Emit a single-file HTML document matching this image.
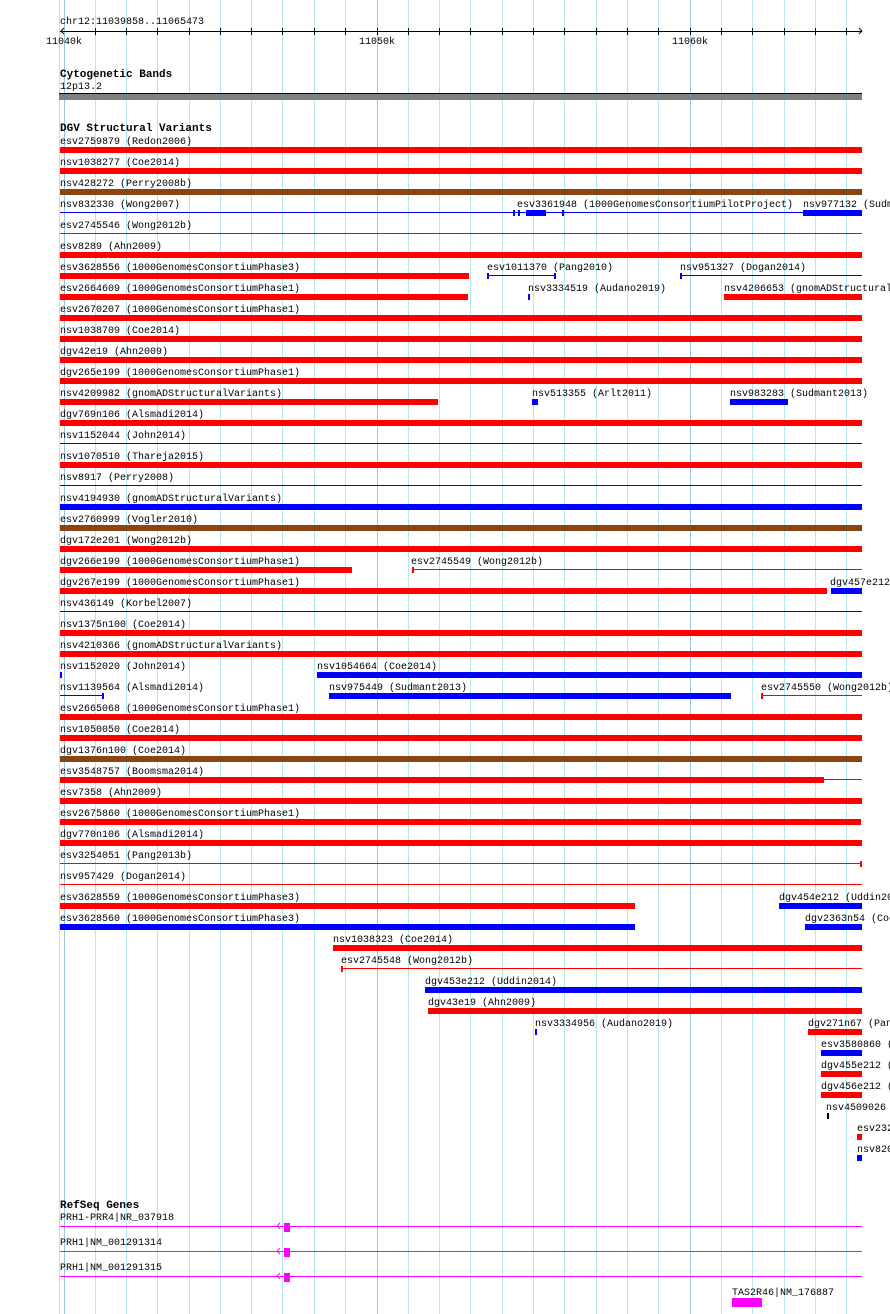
<!DOCTYPE html>
<html><head><meta charset="utf-8"><style>
html,body{margin:0;padding:0;background:#fff;}
svg{display:block;}
text{font-family:"Liberation Mono",monospace;font-size:10px;fill:#000;}
.b{font-weight:bold;font-size:11px;}
</style></head><body>
<svg width="890" height="1314" viewBox="0 0 890 1314" xmlns="http://www.w3.org/2000/svg">
<g stroke="#b4e6ee" stroke-width="1">
<line x1="59.5" y1="0" x2="59.5" y2="1314"/>
<line x1="95.5" y1="0" x2="95.5" y2="1314"/><line x1="126.5" y1="0" x2="126.5" y2="1314"/><line x1="157.5" y1="0" x2="157.5" y2="1314"/><line x1="189.5" y1="0" x2="189.5" y2="1314"/><line x1="220.5" y1="0" x2="220.5" y2="1314"/><line x1="251.5" y1="0" x2="251.5" y2="1314"/><line x1="282.5" y1="0" x2="282.5" y2="1314"/><line x1="314.5" y1="0" x2="314.5" y2="1314"/><line x1="345.5" y1="0" x2="345.5" y2="1314"/>
<line x1="408.5" y1="0" x2="408.5" y2="1314"/><line x1="439.5" y1="0" x2="439.5" y2="1314"/><line x1="470.5" y1="0" x2="470.5" y2="1314"/><line x1="502.5" y1="0" x2="502.5" y2="1314"/><line x1="533.5" y1="0" x2="533.5" y2="1314"/><line x1="564.5" y1="0" x2="564.5" y2="1314"/><line x1="596.5" y1="0" x2="596.5" y2="1314"/><line x1="627.5" y1="0" x2="627.5" y2="1314"/><line x1="658.5" y1="0" x2="658.5" y2="1314"/>
<line x1="721.5" y1="0" x2="721.5" y2="1314"/><line x1="752.5" y1="0" x2="752.5" y2="1314"/><line x1="784.5" y1="0" x2="784.5" y2="1314"/><line x1="815.5" y1="0" x2="815.5" y2="1314"/><line x1="846.5" y1="0" x2="846.5" y2="1314"/>
</g>
<g stroke="#9cc6e6" stroke-width="1">
<line x1="64.5" y1="0" x2="64.5" y2="1314"/><line x1="377.5" y1="0" x2="377.5" y2="1314"/><line x1="690.5" y1="0" x2="690.5" y2="1314"/>
</g>
<!-- ruler -->
<text x="60" y="24">chr12:11039858..11065473</text>
<rect x="60" y="31" width="802" height="1" fill="#000"/>
<path d="M64 28 L61 31 L64 34" stroke="#000" fill="none"/>
<path d="M859 28 L862 31 L859 34" stroke="#000" fill="none"/>
<g fill="#000">
<rect x="95" y="28" width="1" height="7"/><rect x="126" y="28" width="1" height="7"/><rect x="157" y="28" width="1" height="7"/><rect x="189" y="28" width="1" height="7"/><rect x="220" y="28" width="1" height="7"/><rect x="251" y="28" width="1" height="7"/><rect x="282" y="28" width="1" height="7"/><rect x="314" y="28" width="1" height="7"/><rect x="345" y="28" width="1" height="7"/><rect x="377" y="28" width="1" height="7"/><rect x="408" y="28" width="1" height="7"/><rect x="439" y="28" width="1" height="7"/><rect x="470" y="28" width="1" height="7"/><rect x="502" y="28" width="1" height="7"/><rect x="533" y="28" width="1" height="7"/><rect x="564" y="28" width="1" height="7"/><rect x="596" y="28" width="1" height="7"/><rect x="627" y="28" width="1" height="7"/><rect x="658" y="28" width="1" height="7"/><rect x="690" y="28" width="1" height="7"/><rect x="721" y="28" width="1" height="7"/><rect x="752" y="28" width="1" height="7"/><rect x="784" y="28" width="1" height="7"/><rect x="815" y="28" width="1" height="7"/><rect x="846" y="28" width="1" height="7"/>
</g>
<text x="46" y="44">11040k</text><text x="359" y="44">11050k</text><text x="672" y="44">11060k</text>
<!-- cyto -->
<text class="b" x="60" y="77">Cytogenetic Bands</text>
<text x="60" y="89">12p13.2</text>
<rect x="59" y="93" width="803" height="1" fill="#000"/>
<rect x="59" y="94" width="803" height="6" fill="#808080"/>
<!-- DGV -->
<text class="b" x="60" y="131">DGV Structural Variants</text>
<g>
<text x="60" y="144">esv2759879 (Redon2006)</text><rect x="60" y="147" width="802" height="6" fill="#f00"/>
<text x="60" y="165">nsv1038277 (Coe2014)</text><rect x="60" y="168" width="802" height="6" fill="#f00"/>
<text x="60" y="186">nsv428272 (Perry2008b)</text><rect x="60" y="189" width="802" height="6" fill="#8b4513"/>
<text x="60" y="207">nsv832330 (Wong2007)</text><rect x="60" y="212" width="802" height="1" fill="#00f"/>
<text x="517" y="207">esv3361948 (1000GenomesConsortiumPilotProject)</text><text x="803" y="207">nsv977132 (Sudmant2013)</text>
<rect x="513" y="210" width="2" height="6" fill="#00f"/><rect x="518" y="210" width="2" height="6" fill="#00f"/><rect x="526" y="210" width="20" height="6" fill="#00f"/><rect x="562" y="210" width="2" height="6" fill="#00f"/><rect x="803" y="210" width="59" height="6" fill="#00f"/>
<text x="60" y="228">esv2745546 (Wong2012b)</text><rect x="60" y="233" width="802" height="1" fill="#f00"/>
<text x="60" y="249">esv8289 (Ahn2009)</text><rect x="60" y="252" width="802" height="6" fill="#f00"/>
<text x="60" y="270">esv3628556 (1000GenomesConsortiumPhase3)</text><rect x="60" y="273" width="409" height="6" fill="#f00"/>
<text x="487" y="270">esv1011370 (Pang2010)</text><rect x="487" y="275" width="68" height="1" fill="#00f"/><rect x="487" y="273" width="2" height="6" fill="#00f"/><rect x="554" y="273" width="2" height="6" fill="#00f"/>
<text x="680" y="270">nsv951327 (Dogan2014)</text><rect x="680" y="275" width="182" height="1" fill="#00f"/><rect x="680" y="273" width="2" height="6" fill="#00f"/>
<text x="60" y="291">esv2664609 (1000GenomesConsortiumPhase1)</text><rect x="60" y="294" width="408" height="6" fill="#f00"/>
<text x="528" y="291">nsv3334519 (Audano2019)</text><rect x="528" y="294" width="2" height="6" fill="#00f"/>
<text x="724" y="291">nsv4206653 (gnomADStructuralVariants)</text><rect x="724" y="294" width="138" height="6" fill="#f00"/>
<text x="60" y="312">esv2670207 (1000GenomesConsortiumPhase1)</text><rect x="60" y="315" width="802" height="6" fill="#f00"/>
<text x="60" y="333">nsv1038709 (Coe2014)</text><rect x="60" y="336" width="802" height="6" fill="#f00"/>
<text x="60" y="354">dgv42e19 (Ahn2009)</text><rect x="60" y="357" width="802" height="6" fill="#f00"/>
<text x="60" y="375">dgv265e199 (1000GenomesConsortiumPhase1)</text><rect x="60" y="378" width="802" height="6" fill="#f00"/>
<text x="60" y="396">nsv4209982 (gnomADStructuralVariants)</text><rect x="60" y="399" width="378" height="6" fill="#f00"/>
<text x="532" y="396">nsv513355 (Arlt2011)</text><rect x="532" y="399" width="6" height="6" fill="#00f"/>
<text x="730" y="396">nsv983283 (Sudmant2013)</text><rect x="730" y="399" width="58" height="6" fill="#00f"/>
<text x="60" y="417">dgv769n106 (Alsmadi2014)</text><rect x="60" y="420" width="802" height="6" fill="#f00"/>
<text x="60" y="438">nsv1152044 (John2014)</text><rect x="60" y="443" width="802" height="1" fill="#00f"/>
<text x="60" y="459">nsv1070510 (Thareja2015)</text><rect x="60" y="462" width="802" height="6" fill="#f00"/>
<text x="60" y="480">nsv8917 (Perry2008)</text><rect x="60" y="485" width="802" height="1" fill="#00f"/>
<text x="60" y="501">nsv4194930 (gnomADStructuralVariants)</text><rect x="60" y="504" width="802" height="6" fill="#00f"/>
<text x="60" y="522">esv2760999 (Vogler2010)</text><rect x="60" y="525" width="802" height="6" fill="#8b4513"/>
<text x="60" y="543">dgv172e201 (Wong2012b)</text><rect x="60" y="546" width="802" height="6" fill="#f00"/>
<text x="60" y="564">dgv266e199 (1000GenomesConsortiumPhase1)</text><rect x="60" y="567" width="292" height="6" fill="#f00"/>
<text x="411" y="564">esv2745549 (Wong2012b)</text><rect x="412" y="569" width="450" height="1" fill="#f00"/><rect x="412" y="567" width="2" height="6" fill="#f00"/>
<text x="60" y="585">dgv267e199 (1000GenomesConsortiumPhase1)</text><rect x="60" y="588" width="767" height="6" fill="#f00"/>
<text x="830" y="585">dgv457e212 (Uddin2014)</text><rect x="831" y="588" width="31" height="6" fill="#00f"/>
<text x="60" y="606">nsv436149 (Korbel2007)</text><rect x="60" y="611" width="802" height="1" fill="#00f"/>
<text x="60" y="627">nsv1375n100 (Coe2014)</text><rect x="60" y="630" width="802" height="6" fill="#f00"/>
<text x="60" y="648">nsv4210366 (gnomADStructuralVariants)</text><rect x="60" y="651" width="802" height="6" fill="#f00"/>
<text x="60" y="669">nsv1152020 (John2014)</text><rect x="60" y="672" width="2" height="6" fill="#00f"/>
<text x="317" y="669">nsv1054664 (Coe2014)</text><rect x="317" y="672" width="545" height="6" fill="#00f"/>
<text x="60" y="690">nsv1139564 (Alsmadi2014)</text><rect x="60" y="695" width="43" height="1" fill="#00f"/><rect x="102" y="693" width="2" height="6" fill="#00f"/>
<text x="329" y="690">nsv975449 (Sudmant2013)</text><rect x="329" y="693" width="402" height="6" fill="#00f"/>
<text x="761" y="690">esv2745550 (Wong2012b)</text><rect x="761" y="695" width="101" height="1" fill="#f00"/><rect x="761" y="693" width="2" height="6" fill="#f00"/>
<text x="60" y="711">esv2665068 (1000GenomesConsortiumPhase1)</text><rect x="60" y="714" width="802" height="6" fill="#f00"/>
<text x="60" y="732">nsv1050050 (Coe2014)</text><rect x="60" y="735" width="802" height="6" fill="#f00"/>
<text x="60" y="753">dgv1376n100 (Coe2014)</text><rect x="60" y="756" width="802" height="6" fill="#8b4513"/>
<text x="60" y="774">esv3548757 (Boomsma2014)</text><rect x="60" y="777" width="764" height="6" fill="#f00"/><rect x="824" y="779" width="38" height="1" fill="#f00"/>
<text x="60" y="795">esv7358 (Ahn2009)</text><rect x="60" y="798" width="802" height="6" fill="#f00"/>
<text x="60" y="816">esv2675860 (1000GenomesConsortiumPhase1)</text><rect x="60" y="819" width="801" height="6" fill="#f00"/>
<text x="60" y="837">dgv770n106 (Alsmadi2014)</text><rect x="60" y="840" width="802" height="6" fill="#f00"/>
<text x="60" y="858">esv3254051 (Pang2013b)</text><rect x="60" y="863" width="802" height="1" fill="#f00"/><rect x="860" y="861" width="2" height="6" fill="#f00"/>
<text x="60" y="879">nsv957429 (Dogan2014)</text><rect x="60" y="884" width="802" height="1" fill="#f00"/>
<text x="60" y="900">esv3628559 (1000GenomesConsortiumPhase3)</text><rect x="60" y="903" width="575" height="6" fill="#f00"/>
<text x="779" y="900">dgv454e212 (Uddin2014)</text><rect x="779" y="903" width="83" height="6" fill="#00f"/>
<text x="60" y="921">esv3628560 (1000GenomesConsortiumPhase3)</text><rect x="60" y="924" width="575" height="6" fill="#00f"/>
<text x="805" y="921">dgv2363n54 (Coe2014)</text><rect x="805" y="924" width="57" height="6" fill="#00f"/>
<text x="333" y="942">nsv1038323 (Coe2014)</text><rect x="333" y="945" width="529" height="6" fill="#f00"/>
<text x="341" y="963">esv2745548 (Wong2012b)</text><rect x="341" y="968" width="521" height="1" fill="#f00"/><rect x="341" y="966" width="2" height="6" fill="#f00"/>
<text x="425" y="984">dgv453e212 (Uddin2014)</text><rect x="425" y="987" width="437" height="6" fill="#00f"/>
<text x="428" y="1005">dgv43e19 (Ahn2009)</text><rect x="428" y="1008" width="434" height="6" fill="#f00"/>
<text x="535" y="1026">nsv3334956 (Audano2019)</text><rect x="535" y="1029" width="2" height="6" fill="#00f"/>
<text x="808" y="1026">dgv271n67 (Pang2010)</text><rect x="808" y="1029" width="54" height="6" fill="#f00"/>
<text x="821" y="1047">esv3580860 (x)</text><rect x="821" y="1050" width="41" height="6" fill="#00f"/>
<text x="821" y="1068">dgv455e212 (x)</text><rect x="821" y="1071" width="41" height="6" fill="#f00"/>
<text x="821" y="1089">dgv456e212 (x)</text><rect x="821" y="1092" width="41" height="6" fill="#f00"/>
<text x="826" y="1110">nsv4509026 (x)</text><rect x="827" y="1113" width="2" height="6" fill="#000"/>
<text x="857" y="1131">esv2325</text><rect x="857" y="1134" width="5" height="6" fill="#f00"/>
<text x="857" y="1152">nsv8200</text><rect x="857" y="1155" width="5" height="6" fill="#00f"/>
</g>
<!-- RefSeq -->
<text class="b" x="60" y="1208">RefSeq Genes</text>
<text x="60" y="1220">PRH1-PRR4|NR_037918</text>
<text x="60" y="1245">PRH1|NM_001291314</text>
<text x="60" y="1270">PRH1|NM_001291315</text>
<g fill="#f0f">
<rect x="60" y="1226" width="802" height="1"/><rect x="60" y="1251" width="802" height="1"/><rect x="60" y="1276" width="802" height="1"/>
<rect x="284" y="1223" width="6" height="9"/><rect x="284" y="1248" width="6" height="9"/><rect x="284" y="1273" width="6" height="9"/>
<rect x="732" y="1298" width="30" height="9"/>
</g>
<g stroke="#f0f" fill="none"><path d="M280 1223 L277 1226 L280 1229"/><path d="M280 1248 L277 1251 L280 1254"/><path d="M280 1273 L277 1276 L280 1279"/></g>
<text x="732" y="1295">TAS2R46|NM_176887</text>
</svg>
</body></html>
